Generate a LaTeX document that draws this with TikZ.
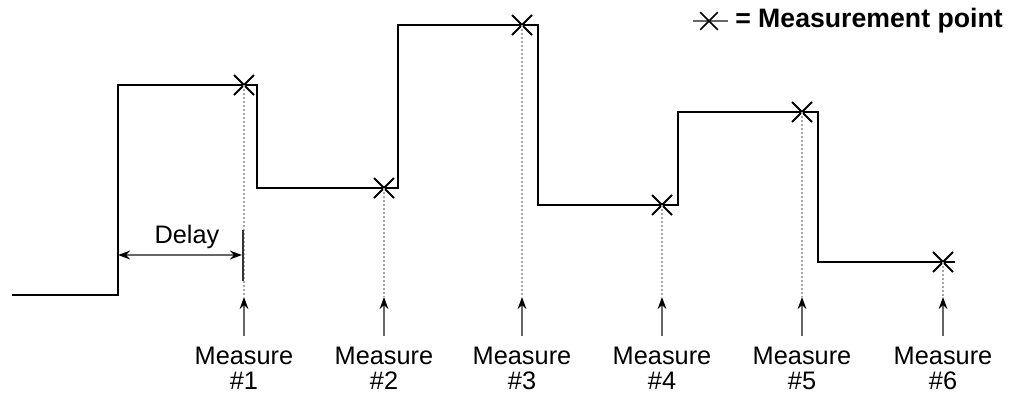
\documentclass[tikz,border=0pt]{standalone}
\usepackage{fontspec}
\setmainfont{Liberation Sans}
\usetikzlibrary{arrows.meta,shapes.misc}
\begin{document}
\begin{tikzpicture}[x=0.75pt,y=-0.75pt,
  stepline/.style={line width=1.7pt,black,line join=miter},
  xmark/.style={cross out,draw=black,line width=1.5pt,minimum size=13.5pt,inner sep=0pt},
  legx/.style={cross out,draw=black,line width=1.3pt,minimum size=12pt,inner sep=0pt},
  dotline/.style={draw=gray!70,line width=0.8pt,dash pattern=on 1.5pt off 1.5pt},
  marrow/.style={draw=gray!80!black,line width=0.9pt,-{Stealth[black,length=9pt,width=6.5pt]}},
  darrow/.style={draw=gray!80!black,line width=0.9pt,{Stealth[black,length=9pt,width=6.5pt]}-{Stealth[black,length=9pt,width=6.5pt]}},
  lab/.style={align=center,inner sep=0pt,anchor=north,font=\fontsize{19}{18.9}\selectfont},
  legtext/.style={anchor=west,inner sep=0pt,font=\fontsize{20}{24}\selectfont\bfseries}]
\useasboundingbox (0,0) rectangle (1009,394);
% step waveform
\coordinate (s0) at (12,295);
\coordinate (s1) at (118,295);
\coordinate (s2) at (118,85);
\coordinate (s3) at (257,85);
\coordinate (s4) at (257,188);
\coordinate (s5) at (398,188);
\coordinate (s6) at (398,25);
\coordinate (s7) at (538,25);
\coordinate (s8) at (538,205);
\coordinate (s9) at (678,205);
\coordinate (s10) at (678,112);
\coordinate (s11) at (818,112);
\coordinate (s12) at (818,262);
\coordinate (s13) at (955,262);
\draw[stepline] (s0) -- (s1) -- (s2) -- (s3) -- (s4) -- (s5) -- (s6) -- (s7) -- (s8) -- (s9) -- (s10) -- (s11) -- (s12) -- (s13);
% measurement points, arrows and labels
\foreach \i/\x/\y in {1/244/85,2/384/188,3/522/25,4/662/205,5/802/112,6/943/262}{
  \node[xmark] (m\i) at (\x,\y) {};
  \coordinate (t\i) at (\x,297);
  \coordinate (b\i) at (\x,336);
  \draw[dotline] (m\i.center) -- (t\i);
  \draw[marrow] (b\i) -- (t\i);
  \node[lab] (l\i) at (\x,347) {Measure\\\#\i};
}
% delay
\coordinate (d0) at (118,255);
\coordinate (d1) at (242,255);
\coordinate (bar0) at (243,230);
\coordinate (bar1) at (243,281);
\draw[line width=1.2pt,black!80] (bar0) -- (bar1);
\draw[darrow] (d0) -- (d1);
\node[inner sep=0pt,anchor=base,font=\fontsize{19}{22}\selectfont] (delay) at (187,243) {Delay};
% legend
\coordinate (g0) at (693,21);
\coordinate (g1) at (728,21);
\draw[line width=0.9pt,gray!80!black] (g0) -- (g1);
\node[legx] (gx) at (709,21) {};
\node[legtext] (gt) at (735,21) {= Measurement point};
\end{tikzpicture}
\end{document}
